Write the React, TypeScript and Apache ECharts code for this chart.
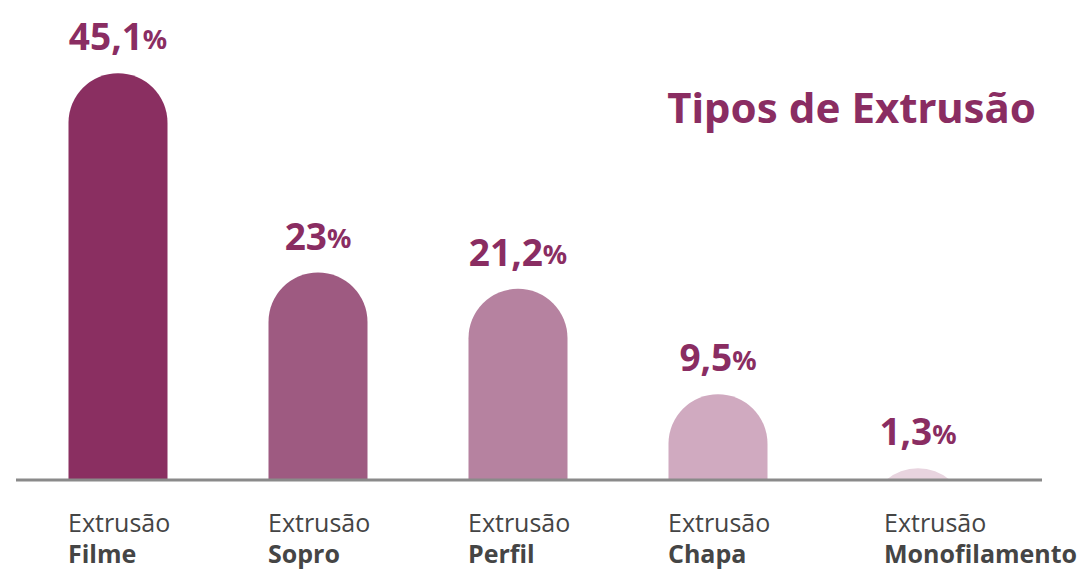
import React, { useEffect, useRef } from "react";
import * as echarts from "echarts";

const categories = ["Filme", "Sopro", "Perfil", "Chapa", "Monofilamento"];
const values = [45.1, 23, 21.2, 9.5, 1.3];
const barColors = ["#8a2f61", "#9e5a81", "#b682a0", "#d0aac0", "#e8d4df"];
const titleText = "Tipos de Extrusão";
const prefixLabel = "Extrusão";

const BAR_W = 99;
const R = 49.5;
const LABEL_COLOR = "#8a2d62";

export default function App() {
  const ref = useRef<HTMLDivElement>(null);
  useEffect(() => {
    if (!ref.current) return;
    const chart = echarts.init(ref.current, null, { renderer: "svg" });
    chart.setOption({
      animation: false,
      backgroundColor: "#ffffff",
      title: {
        text: titleText,
        right: 46,
        top: 80,
        textStyle: {
          fontFamily: "Noto Sans",
          fontWeight: "bold",
          fontSize: 42,
          color: LABEL_COLOR,
        },
      },
      grid: { left: 18, right: 69, top: 29, bottom: 92 },
      xAxis: {
        type: "category",
        data: categories.map((c, i) =>
          i === categories.length - 1
            ? { value: c, textStyle: { padding: [0, 0, 0, 32] } }
            : c
        ),
        axisLine: { show: false },
        axisTick: { show: false },
        axisLabel: {
          margin: 26,
          interval: 0,
          formatter: (v: string) => `{a|${prefixLabel}}\n{b|${v}}`,
          rich: {
            a: {
              fontFamily: "Open Sans",
              fontSize: 25,
              color: "#454545",
              width: 100,
              align: "left",
              lineHeight: 31,
            },
            b: {
              fontFamily: "Open Sans",
              fontSize: 25,
              fontWeight: "bold",
              color: "#454545",
              width: 100,
              align: "left",
              lineHeight: 31,
            },
          },
        },
      },
      yAxis: {
        type: "value",
        min: 0,
        max: 50,
        show: false,
        splitLine: { show: false },
      },
      series: [
        {
          type: "custom",
          data: values.map((v, i) => [i, v]),
          encode: { x: 0, y: 1 },
          renderItem: (params: any, api: any) => {
            const idx = api.value(0);
            const v = api.value(1);
            const top = api.coord([idx, v]);
            const base = api.coord([idx, 0]);
            const cx = top[0];
            const by = base[1];
            const ty = top[1];
            const h = by - ty;
            let d: string;
            if (h >= R) {
              const x0 = cx - BAR_W / 2;
              const x1 = cx + BAR_W / 2;
              d = `M${x0},${by} L${x0},${ty + R} A${R},${R} 0 0 1 ${x1},${ty + R} L${x1},${by} Z`;
            } else {
              const c = Math.sqrt(R * R - (R - h) * (R - h));
              d = `M${cx - c},${by} A${R},${R} 0 0 1 ${cx + c},${by} Z`;
            }
            return {
              type: "path",
              shape: { pathData: d },
              style: { fill: barColors[params.dataIndex] },
              textContent: {
                style: {
                  text: `{n|${String(v).replace(".", ",")}}{p|%}`,
                  fill: LABEL_COLOR,
                  rich: {
                    n: {
                      fontFamily: "Noto Sans",
                      fontWeight: "bold",
                      fontSize: 37,
                      fill: LABEL_COLOR,
                    },
                    p: {
                      fontFamily: "Noto Sans",
                      fontWeight: "bold",
                      fontSize: 27,
                      fill: LABEL_COLOR,
                      padding: [5, 0, 0, 0],
                    },
                  },
                },
              },
              textConfig: {
                position: "top",
                distance: 19,
                outsideFill: LABEL_COLOR,
                insideFill: LABEL_COLOR,
              },
            };
          },
        },
      ],
      graphic: [
        {
          type: "line",
          z: 100,
          shape: { x1: 16, y1: 480, x2: 1042, y2: 480 },
          style: { stroke: "#8a8a8a", lineWidth: 3 },
        },
      ],
    });
    return () => chart.dispose();
  }, []);
  return (
    <div
      ref={ref}
      style={{ position: "fixed", left: 0, top: 0, width: 1087, height: 572 }}
    />
  );
}
